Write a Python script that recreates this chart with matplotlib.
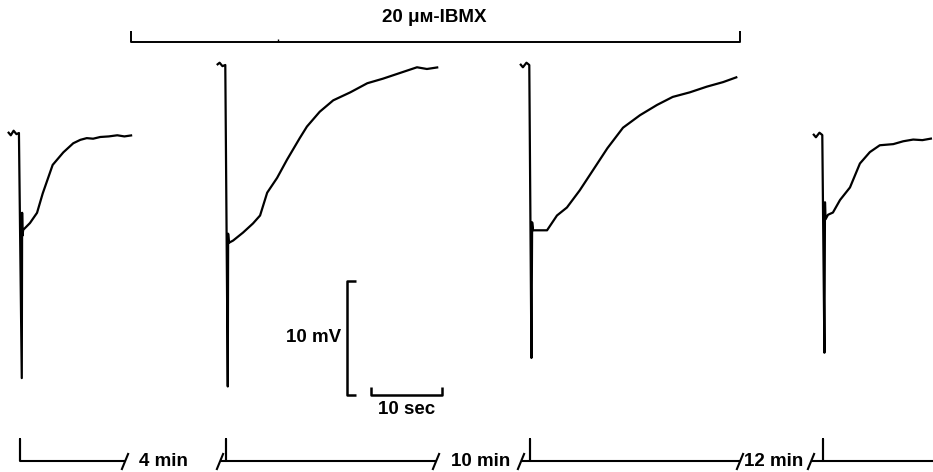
import numpy as np
import matplotlib
matplotlib.use("Agg")
import matplotlib.pyplot as plt

# ---------------- data (time in s from pulse onset, voltage in mV from baseline) -------------
t_ctrl1 = [-1.7, -1.3, -0.9, -0.5, -0.15, 0.25, 0.3, 0.35, 0.45, 1.4, 2.4, 3.2, 4.6, 6.1, 7.5,
           8.5, 9.4, 10.3, 11.3, 12.5, 13.7, 14.7, 15.8]
v_ctrl1 = [0.1, -0.2, 0.2, -0.1, 0.0, -21.5, -7.0, -9.0, -8.5, -7.9, -7.0, -5.3, -2.8, -1.7, -0.9,
           -0.6, -0.45, -0.5, -0.35, -0.3, -0.2, -0.3, -0.2]

t_ibmx4 = [-1.3, -0.9, -0.5, -0.1, 0.25, 0.3, 0.4, 1.0, 2.4, 3.8, 4.8, 5.8, 7.2, 8.6, 10.4, 11.4,
           13.2, 15.1, 17.5, 19.9, 22.1, 24.5, 26.9, 28.3, 29.9]
v_ibmx4 = [0.0, 0.2, -0.1, 0.0, -28.2, -14.8, -15.6, -15.4, -14.7, -13.9, -13.2, -11.2, -9.9, -8.3,
           -6.4, -5.4, -4.1, -3.1, -2.4, -1.6, -1.2, -0.7, -0.2, -0.35, -0.2]

t_ibmx14 = [-1.4, -1.0, -0.5, -0.1, 0.2, 0.3, 0.42, 2.4, 3.8, 5.2, 7.0, 8.9, 10.9, 13.1, 15.5,
            17.9, 20.1, 22.5, 24.9, 27.2, 29.2]
v_ibmx14 = [0.1, -0.2, 0.2, 0.0, -25.7, -13.8, -14.5, -14.5, -13.2, -12.5, -11.0, -9.2, -7.3, -5.5,
            -4.4, -3.5, -2.8, -2.4, -1.9, -1.5, -1.05]

t_wash = [-1.4, -1.0, -0.5, -0.1, 0.2, 0.28, 0.35, 0.7, 1.4, 2.4, 3.8, 5.2, 6.6, 8.0, 9.9, 11.3,
          12.7, 14.0, 15.35]
v_wash = [0.1, -0.2, 0.2, 0.0, -19.1, -5.9, -7.4, -7.0, -6.8, -5.7, -4.6, -2.5, -1.5, -0.9, -0.8,
          -0.55, -0.4, -0.45, -0.3]

traces = [(t_ctrl1, v_ctrl1), (t_ibmx4, v_ibmx4), (t_ibmx14, v_ibmx14), (t_wash, v_wash)]
gap_labels = ["4 min", "10 min", "12 min"]
drug_label = "20 \u03bc\u1d0d-IBMX"
scale_mv = 10.0
scale_s = 10.0

# ---------------- layout (page pixels) ----------------
W, H = 933, 472
PX_S = 7.1      # pixels per second
PX_MV = 11.4    # pixels per mV
trace_x0 = [20, 226, 530, 823]
trace_base = [133, 65, 65, 135]
gap_slash_left = [125, 436, 740]
gap_slash_right = [220, 521, 811]
gap_text_x = [163, 481, 774]
timeline_y = 461
timeline_tick_top = 439
drug_bar = (131, 740, 42, 31)
drug_text = (434, 18)
vbar = (347, 281)     # x, top y
hbar = (371, 395)     # left x, y

FONT = ['Liberation Sans', 'DejaVu Sans']
FS = 13.5
FW = 'bold'


def X(px):
    return np.asarray(px, dtype=float) / PX_S


def Y(py):
    return -np.asarray(py, dtype=float) / PX_MV


fig = plt.figure(figsize=(W / 100, H / 100), dpi=100)
ax = fig.add_axes([0, 0, 1, 1])
ax.set_xlim(0, W / PX_S)
ax.set_ylim(-H / PX_MV, 0)
ax.axis('off')

kw = dict(color='black', solid_joinstyle='round', solid_capstyle='butt')

# traces
for (t, v), x0, b in zip(traces, trace_x0, trace_base):
    ax.plot(X(x0) + np.asarray(t), Y(b) + np.asarray(v), lw=1.6, **kw)

# drug bar
x1, x2, yb, yt = drug_bar
ax.plot([X(x1), X(x1), X(x2), X(x2)], [Y(yt), Y(yb), Y(yb), Y(yt)], lw=1.4, **kw)
ax.plot([X(278), X(278)], [Y(yb), Y(yb - 3)], lw=1.0, **kw)
ax.text(X(drug_text[0]), Y(drug_text[1]), drug_label, ha='center', va='center',
        fontsize=FS, family=FONT, fontweight=FW)

# scale bars
vx, vtop = vbar
ax.plot([X(vx + 9), X(vx), X(vx), X(vx + 9)],
        [Y(vtop), Y(vtop), Y(vtop) - scale_mv, Y(vtop) - scale_mv], lw=1.8, **kw)
ax.text(X(vx - 6), Y(vtop) - scale_mv / 2, "10 mV", ha='right', va='center',
        fontsize=FS, family=FONT, fontweight=FW)
hx, hy = hbar
ax.plot([X(hx), X(hx), X(hx) + scale_s, X(hx) + scale_s],
        [Y(hy - 8), Y(hy), Y(hy), Y(hy - 8)], lw=1.8, **kw)
ax.text(X(hx) + scale_s / 2, Y(hy + 15), "10 sec", ha='center', va='center',
        fontsize=FS, family=FONT, fontweight=FW)

# timeline at bottom
ty = timeline_y
for i, x0 in enumerate(trace_x0):
    right = gap_slash_left[i] if i < len(gap_slash_left) else W
    left = x0
    if i > 0:
        left = gap_slash_right[i - 1] + 1
    ax.plot([X(left), X(x0), X(x0), X(x0), X(right)],
            [Y(ty), Y(ty), Y(timeline_tick_top), Y(ty), Y(ty)], lw=1.5, **kw)
for xs in gap_slash_left + gap_slash_right:
    ax.plot([X(xs - 3.5), X(xs + 3.5)], [Y(ty + 9), Y(ty - 8)], lw=1.5, **kw)
for xt, lab in zip(gap_text_x, gap_labels):
    ax.text(X(xt), Y(ty), lab, ha='center', va='center', fontsize=FS, family=FONT,
            fontweight=FW)

fig.savefig("out.png", dpi=100, facecolor='white')
